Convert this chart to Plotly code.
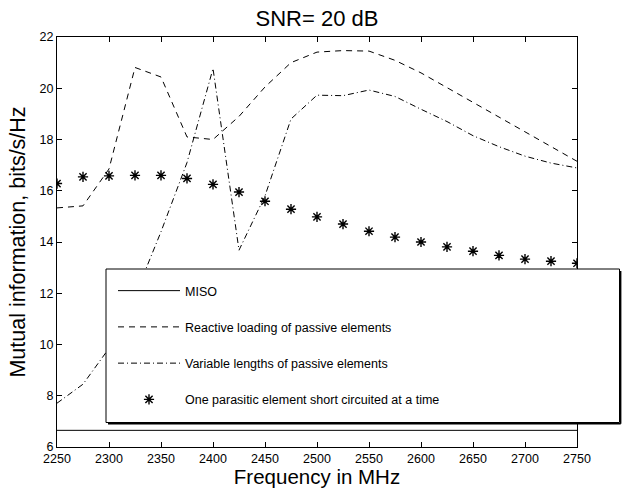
import plotly.graph_objects as go

freq = [2250, 2275, 2300, 2325, 2350, 2375, 2400, 2425, 2450, 2475, 2500,
        2525, 2550, 2575, 2600, 2625, 2650, 2675, 2700, 2725, 2750]

miso = [6.65] * 21
reactive = [15.33, 15.41, 16.85, 20.81, 20.44, 18.10, 18.00, 18.90, 20.05, 21.00, 21.41,
            21.47, 21.45, 21.09, 20.60, 20.03, 19.45, 18.88, 18.30, 17.72, 17.15]
variable = [7.71, 8.45, 9.85, 11.90, 14.40, 17.10, 20.77, 13.68, 15.80, 18.80, 19.73,
            19.71, 19.93, 19.68, 19.18, 18.70, 18.15, 17.72, 17.35, 17.08, 16.89]
shorted = [16.28, 16.54, 16.58, 16.60, 16.60, 16.48, 16.25, 15.95, 15.59, 15.28, 14.98,
           14.70, 14.42, 14.19, 14.00, 13.81, 13.64, 13.48, 13.33, 13.25, 13.17]

names = ["MISO", "Reactive loading of passive elements",
         "Variable lengths of passive elements",
         "One parasitic element short circuited at a time"]

FONT = "Liberation Sans, Arial, Helvetica, sans-serif"

W, H = 625, 488
L, R, T, B = 57, 0, 37, 41
plot_right = 577
pw_full = W - L - R
ph = H - T - B

fig = go.Figure()
fig.add_trace(go.Scatter(x=freq, y=miso, mode="lines", name=names[0], legendgroup="a",
                         line=dict(color="black", width=1)))
fig.add_trace(go.Scatter(x=freq, y=reactive, mode="lines", name=names[1], legendgroup="b",
                         line=dict(color="black", width=1, dash="6px,5px")))
fig.add_trace(go.Scatter(x=freq, y=variable, mode="lines", name=names[2], legendgroup="c",
                         line=dict(color="black", width=1, dash="6px,3px,1px,3px")))
fig.add_trace(go.Scatter(x=freq, y=shorted, mode="markers", name=names[3], legendgroup="d",
                         marker=dict(symbol="asterisk", size=8.5, color="black",
                                     line=dict(color="black", width=1.4))))
# empty helper trace so that the pixel-space overlay subplot (x2/y2) exists
fig.add_trace(go.Scatter(x=[None], y=[None], xaxis="x2", yaxis="y2", showlegend=False,
                         hoverinfo="skip", mode="lines"))

# legend box: white fill, border and a thin shadow on bottom/right (pixel-space axes)
bx0, bx1, by0, by1 = 106, 619.5, 269, 422.5
fig.add_shape(type="rect", xref="x2", yref="y2", x0=bx0, x1=bx1, y0=by0, y1=by1,
              fillcolor="white", line=dict(width=0), layer="above")
for (xa, ya, xb, yb, wd) in [(bx0, by0, bx1, by0, 1), (bx0, by1, bx1, by1, 1),
                             (bx0, by0, bx0, by1, 1), (bx1, by0, bx1, by1, 1),
                             (bx0 + 2, by1 + 1.2, bx1 + 1.2, by1 + 1.2, 1.4),
                             (bx1 + 1.2, by0 + 2, bx1 + 1.2, by1 + 1.2, 1.4)]:
    fig.add_shape(type="line", xref="x2", yref="y2", x0=xa, y0=ya, x1=xb, y1=yb,
                  line=dict(color="black", width=wd), layer="above")

lx, ly = (113 - L) / pw_full, (H - B - 276) / ph
fig.update_layout(
    width=W, height=H,
    margin=dict(l=L, r=R, t=T, b=B, pad=0),
    paper_bgcolor="white", plot_bgcolor="rgba(0,0,0,0)",
    font=dict(family=FONT, color="black", size=12.5),
    title=dict(text="SNR= 20 dB", x=(L + (plot_right - L) / 2) / W, xanchor="center",
               y=1 - 18 / H, yanchor="middle", font=dict(size=22)),
    showlegend=True,
    legend=dict(x=lx, y=ly, xanchor="left", yanchor="top", bgcolor="rgba(0,0,0,0)",
                borderwidth=0, itemwidth=62, tracegroupgap=17,
                font=dict(size=12.5, family=FONT), itemclick=False),
    xaxis=dict(domain=[0, (plot_right - L) / pw_full], range=[2250, 2750], dtick=50,
               tick0=2250, showgrid=False, zeroline=False, automargin=False,
               showline=True, linecolor="black", linewidth=1, mirror="ticks",
               ticks="inside", ticklen=5, tickcolor="black", tickfont=dict(size=12.5),
               ticklabelstandoff=0,
               title=dict(text="Frequency in MHz", font=dict(size=20.5), standoff=7)),
    yaxis=dict(range=[6, 22], dtick=2, tick0=6, showgrid=False, zeroline=False,
               automargin=False,
               showline=True, linecolor="black", linewidth=1, mirror="ticks",
               ticks="inside", ticklen=5, tickcolor="black", tickfont=dict(size=12.5),
               title=dict(text="Mutual information, bits/s/Hz", font=dict(size=21.5),
                          standoff=8)),
    xaxis2=dict(domain=[0, 1], range=[L, W], anchor="y2", visible=False,
                fixedrange=True, showgrid=False, zeroline=False),
    yaxis2=dict(domain=[0, 1], range=[H - B, T], anchor="x2", visible=False,
                fixedrange=True, showgrid=False, zeroline=False),
)

fig.write_html("out.html")
